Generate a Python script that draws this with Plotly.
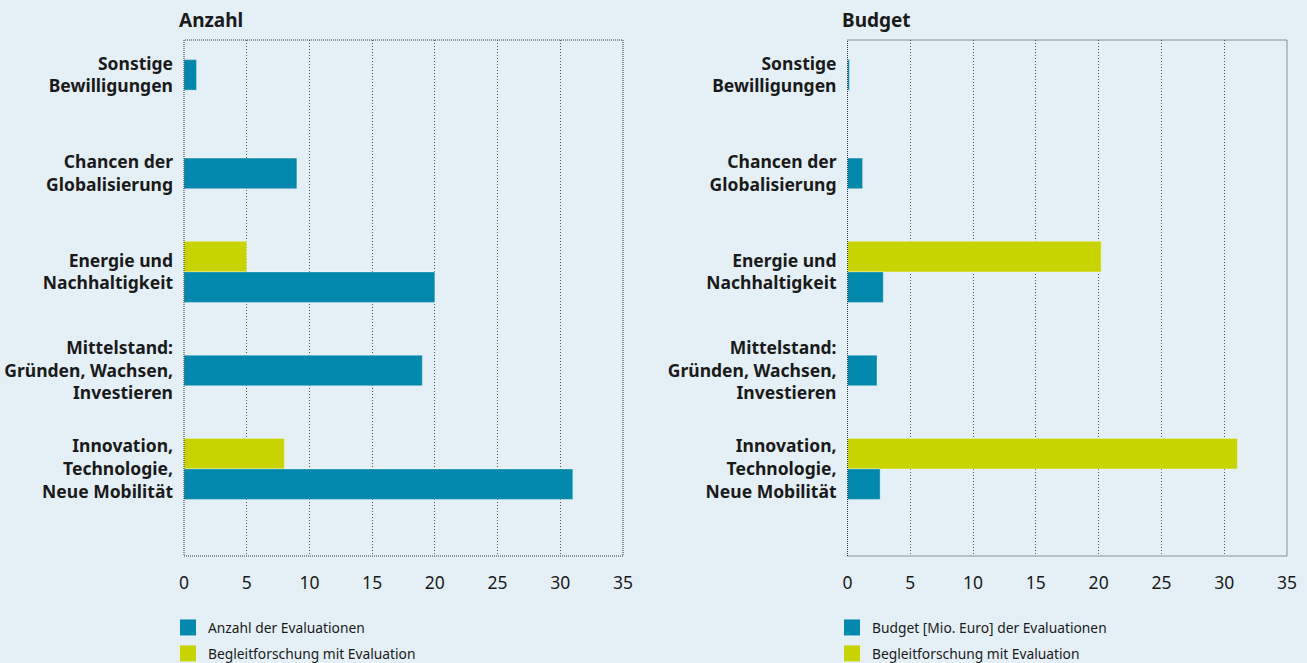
import plotly.graph_objects as go

categories = [
    "Sonstige<br>Bewilligungen",
    "Chancen der<br>Globalisierung",
    "Energie und<br>Nachhaltigkeit",
    "Mittelstand:<br>Gründen, Wachsen,<br>Investieren",
    "Innovation,<br>Technologie,<br>Neue Mobilität",
]
anzahl_eval = [1, 9, 20, 19, 31]
anzahl_begleit = [None, None, 5, None, 8]
budget_eval = [0.15, 1.2, 2.85, 2.35, 2.6]
budget_begleit = [None, None, 20.2, None, 31.05]
x_ticks = [0, 5, 10, 15, 20, 25, 30, 35]

title_left = "Anzahl"
title_right = "Budget"
legend_left = ["Anzahl der Evaluationen", "Begleitforschung mit Evaluation"]
legend_right = ["Budget [Mio. Euro] der Evaluationen", "Begleitforschung mit Evaluation"]

BLUE = "#0089AD"
YELLOW = "#C8D400"
BG = "#E4F0F6"
TXT = "#1a1a1a"
FONT = "Noto Sans"
W = 0.31

fig = go.Figure()


def add_panel(xa, ya, ev, bg, leg, legname):
    blue_off = [(0 if b is not None else -W / 2) for b in bg]
    fig.add_trace(go.Bar(
        y=categories, x=bg, orientation="h", xaxis=xa, yaxis=ya,
        marker=dict(color=YELLOW, line=dict(color="rgba(255,255,255,0.35)", width=1)),
        width=W, offset=-W, showlegend=False, hoverinfo="x+y"))
    fig.add_trace(go.Bar(
        y=categories, x=ev, orientation="h", xaxis=xa, yaxis=ya,
        marker=dict(color=BLUE, line=dict(color="rgba(255,255,255,0.35)", width=1)),
        width=W, offset=blue_off, showlegend=False, hoverinfo="x+y"))
    for name, col, grp in [(leg[0], BLUE, "a"), (leg[1], YELLOW, "b")]:
        fig.add_trace(go.Scatter(
            x=[None], y=[None], mode="markers", xaxis=xa, yaxis=ya,
            marker=dict(symbol="square", size=16, color=col),
            name=name, legend=legname, legendgroup=grp + legname, showlegend=True))


add_panel("x", "y", anzahl_eval, anzahl_begleit, legend_left, "legend")
add_panel("x2", "y2", budget_eval, budget_begleit, legend_right, "legend2")

ydom = [(663 - 556) / 663, (663 - 40) / 663]
xdom1 = [184 / 1307, 623 / 1307]
xdom2 = [847.5 / 1307, 1287 / 1307]

xcommon = dict(range=[0, 35], tickvals=x_ticks, showgrid=True, gridcolor="#555555",
               griddash="1px,2px", gridwidth=1, zeroline=False, showline=False,
               ticks="", ticklabelstandoff=14, automargin=False,
               tickfont=dict(family=FONT, size=17.5, color=TXT), fixedrange=True)
ycommon = dict(type="category", categoryorder="array", categoryarray=categories,
               range=[4.884, -0.354], showgrid=False, zeroline=False, showline=False,
               ticks="", ticklabelstandoff=10, automargin=False,
               tickfont=dict(family=FONT, size=17.5, color=TXT, weight="bold"), fixedrange=True)

fig.update_layout(
    width=1307, height=663,
    margin=dict(l=0, r=0, t=0, b=0, autoexpand=False),
    paper_bgcolor=BG, plot_bgcolor=BG,
    barmode="overlay",
    font=dict(family=FONT, color=TXT),
    xaxis=dict(domain=xdom1, anchor="y", **xcommon),
    yaxis=dict(domain=ydom, anchor="x", **ycommon),
    xaxis2=dict(domain=xdom2, anchor="y2", **xcommon),
    yaxis2=dict(domain=ydom, anchor="x2", **ycommon),
    legend=dict(x=168 / 1307, y=(663 - 612) / 663, xanchor="left", yanchor="top",
                bgcolor="rgba(0,0,0,0)", font=dict(family=FONT, size=13.8, color=TXT),
                tracegroupgap=5, itemwidth=30),
    legend2=dict(x=832 / 1307, y=(663 - 612) / 663, xanchor="left", yanchor="top",
                 bgcolor="rgba(0,0,0,0)", font=dict(family=FONT, size=13.8, color=TXT),
                 tracegroupgap=5, itemwidth=30),
    showlegend=True,
    annotations=[
        dict(text=title_left, x=177 / 1307, y=(663 - 20) / 663, xref="paper", yref="paper",
             xanchor="left", yanchor="middle", showarrow=False,
             font=dict(family=FONT, size=19, color=TXT, weight="bold")),
        dict(text=title_right, x=840 / 1307, y=(663 - 20) / 663, xref="paper", yref="paper",
             xanchor="left", yanchor="middle", showarrow=False,
             font=dict(family=FONT, size=19, color=TXT, weight="bold")),
    ],
    shapes=[
        dict(type="rect", xref="x domain", yref="y domain", x0=0, x1=1, y0=0, y1=1,
             line=dict(color="#333333", width=1, dash="1px,1px"), layer="above"),
        dict(type="rect", xref="x2 domain", yref="y2 domain", x0=0, x1=1, y0=0, y1=1,
             line=dict(color="#333333", width=1, dash="1px,1px"), layer="above"),
    ],
)

fig.write_html(
    "out.html",
    config={"displayModeBar": False},
    post_script=(
        "document.body.style.margin='0';"
        "document.body.style.padding='0';"
        "document.body.style.overflow='hidden';"
        "document.documentElement.style.overflow='hidden';"
    ),
)
